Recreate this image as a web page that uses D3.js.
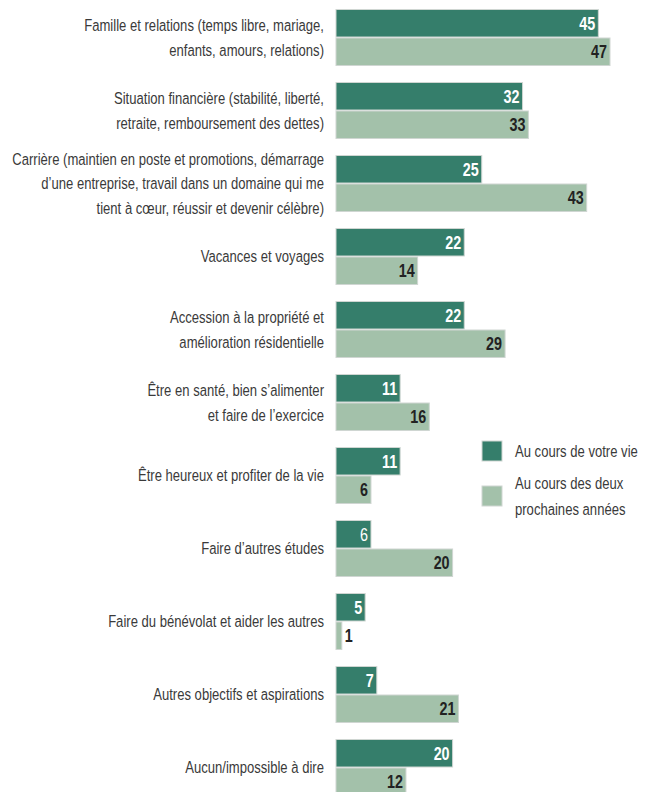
<!DOCTYPE html>
<html>
<head>
<meta charset="utf-8">
<script src="https://cdn.jsdelivr.net/npm/d3@7"></script>
<style>
  html, body { margin: 0; padding: 0; background: #fff; }
  svg { display: block; }
  text { font-family: "Liberation Sans", Arial, sans-serif; }
</style>
</head>
<body>
<svg id="chart" width="646" height="792"></svg>
<script>
const categories = [
  ["Famille et relations (temps libre, mariage,", "enfants, amours, relations)"],
  ["Situation financière (stabilité, liberté,", "retraite, remboursement des dettes)"],
  ["Carrière (maintien en poste et promotions, démarrage", "d’une entreprise, travail dans un domaine qui me", "tient à cœur, réussir et devenir célèbre)"],
  ["Vacances et voyages"],
  ["Accession à la propriété et", "amélioration résidentielle"],
  ["Être en santé, bien s’alimenter", "et faire de l’exercice"],
  ["Être heureux et profiter de la vie"],
  ["Faire d’autres études"],
  ["Faire du bénévolat et aider les autres"],
  ["Autres objectifs et aspirations"],
  ["Aucun/impossible à dire"]
];
const lifetime = [45, 32, 25, 22, 22, 11, 11, 6, 5, 7, 20];
const nextTwoYears = [47, 33, 43, 14, 29, 16, 6, 20, 1, 21, 12];
const seriesNames = [["Au cours de votre vie"], ["Au cours des deux", "prochaines années"]];
const colors = ["#357e6b", "#a3c1aa"];

const svg = d3.select("#chart");
const x = d3.scaleLinear().domain([0, 47]).range([336, 610]);
const y = d3.scaleBand().domain(d3.range(categories.length))
  .range([9, 9 + 73 * 11 - 16]).paddingInner(16 / 73).paddingOuter(0);
const sub = d3.scaleBand().domain([0, 1]).range([0, y.bandwidth()]);

// condensed look: measure a reference line and compress horizontally
const LABEL_SIZE = 17;
const LABEL_X = 324;
const probe = svg.append("text").attr("font-size", LABEL_SIZE).text(categories[0][0]);
const sx = 240 / probe.node().getComputedTextLength();
probe.remove();
function condense(sel, ax, f) {
  sel.attr("transform", `translate(${ax},0) scale(${f},1) translate(${-ax},0)`);
}

const groups = svg.append("g").selectAll("g.grp").data(categories).join("g")
  .attr("class", "grp")
  .attr("transform", (d, i) => `translate(0,${y(i)})`);

// category labels
groups.each(function(d) {
  const cy = y.bandwidth() / 2;
  const lh = 24.5;
  const t = d3.select(this).append("text")
    .attr("text-anchor", "end")
    .attr("fill", "#3a3a3a")
    .attr("font-size", LABEL_SIZE);
  d.forEach((line, k) => {
    t.append("tspan")
      .attr("x", LABEL_X)
      .attr("y", cy + (k - (d.length - 1) / 2) * lh)
      .attr("dy", "0.35em")
      .text(line);
  });
  condense(t, LABEL_X, sx);
});

const series = [lifetime, nextTwoYears];
series.forEach((vals, s) => {
  groups.append("rect")
    .attr("x", x(0))
    .attr("y", sub(s) + 0.5)
    .attr("width", (d, i) => x(vals[i]) - x(0))
    .attr("height", sub.bandwidth() - 1)
    .attr("fill", colors[s])
    .attr("stroke", "#cfd6d2")
    .attr("stroke-width", 1);
  groups.append("text")
    .attr("x", (d, i) => vals[i] < 3 ? x(vals[i]) + 3 : x(vals[i]) - 3)
    .attr("y", sub(s) + sub.bandwidth() / 2)
    .attr("dy", "0.36em")
    .attr("text-anchor", (d, i) => vals[i] < 3 ? "start" : "end")
    .attr("font-size", 17.5)
    .attr("font-weight", (d, i) => (s === 0 && i === 7) ? "normal" : "bold")
    .attr("fill", s === 0 ? "#ffffff" : "#222222")
    .text((d, i) => vals[i])
    .each(function(d, i) {
      const ax = vals[i] < 3 ? x(vals[i]) + 3 : x(vals[i]) - 3;
      condense(d3.select(this), ax, 0.82);
    });
});

// legend
const legend = svg.append("g");
const legY = [451, 496];
seriesNames.forEach((lines, s) => {
  legend.append("rect")
    .attr("x", 482).attr("y", legY[s] - 10)
    .attr("width", 20).attr("height", 20)
    .attr("fill", colors[s])
    .attr("stroke", "#cfd6d2");
  const t = legend.append("text")
    .attr("fill", "#3a3a3a").attr("font-size", LABEL_SIZE);
  lines.forEach((line, k) => {
    t.append("tspan")
      .attr("x", 515)
      .attr("y", legY[s] + (k - (lines.length - 1) / 2) * 26)
      .attr("dy", "0.35em")
      .text(line);
  });
  condense(t, 515, sx);
});
</script>
</body>
</html>
